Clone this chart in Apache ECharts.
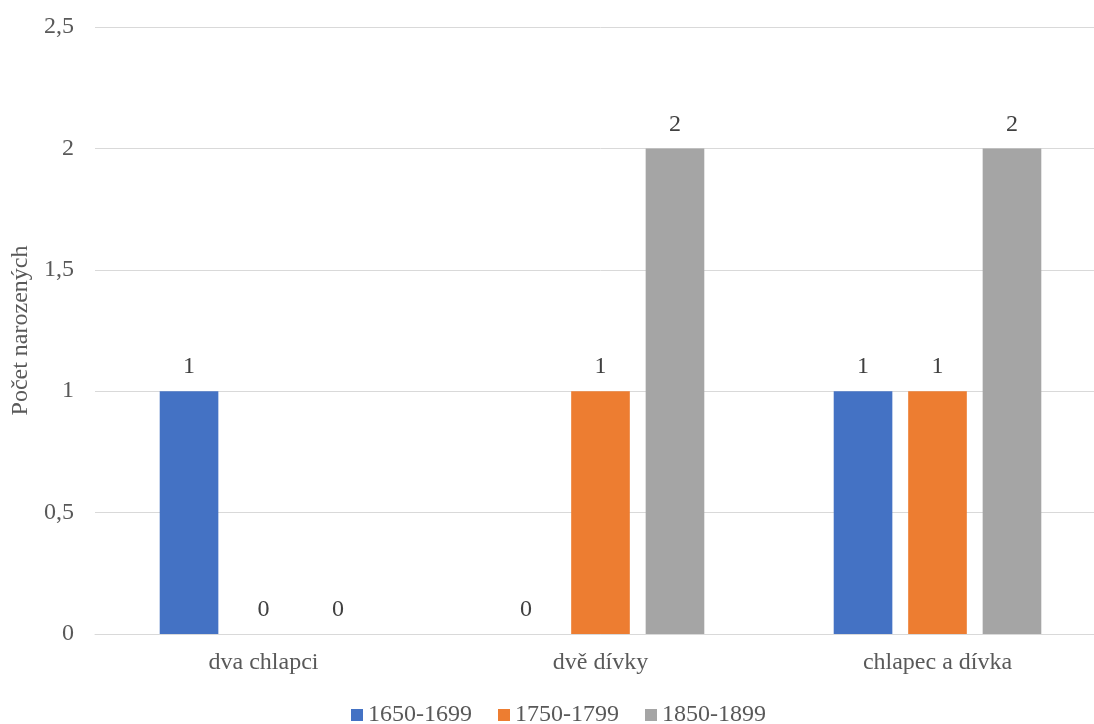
<!DOCTYPE html>
<html>
<head>
<meta charset="utf-8">
<script src="https://cdn.jsdelivr.net/npm/echarts@6/dist/echarts.min.js"></script>
<style>
html,body{margin:0;padding:0;background:#fff;overflow:hidden;}
#chart{width:1106px;height:724px;}
</style>
</head>
<body>
<div id="chart"></div>
<script>
const categories = ['dva chlapci', 'dvě dívky', 'chlapec a dívka'];
const seriesNames = ['1650-1699', '1750-1799', '1850-1899'];
const values1650 = [1, 0, 1];
const values1750 = [0, 1, 1];
const values1850 = [0, 2, 2];
const colors = ['#4472C4', '#ED7D31', '#A5A5A5'];
const yAxisName = 'Počet narozených';

const FONT = '"Liberation Serif", "Times New Roman", serif';
const chart = echarts.init(document.getElementById('chart'));
const allValues = [values1650, values1750, values1850];

chart.setOption({
  animation: false,
  textStyle: { fontFamily: FONT },
  grid: { left: 95, top: 27, right: 0, bottom: 90, containLabel: false },
  legend: {
    top: 703,
    left: 351,
    padding: 0,
    itemWidth: 12,
    itemHeight: 12,
    itemGap: 26,
    icon: 'rect',
    textStyle: { fontFamily: FONT, fontSize: 24, color: '#595959' },
    data: seriesNames
  },
  xAxis: {
    type: 'category',
    data: categories,
    axisLine: { lineStyle: { color: '#D9D9D9', width: 1 } },
    axisTick: { show: false },
    axisLabel: { fontFamily: FONT, fontSize: 24, color: '#595959', margin: 17 }
  },
  yAxis: {
    type: 'value',
    min: 0,
    max: 2.5,
    interval: 0.5,
    name: yAxisName,
    nameLocation: 'middle',
    nameGap: 60,
    nameTextStyle: { fontFamily: FONT, fontSize: 24, color: '#595959' },
    axisLine: { show: false },
    axisTick: { show: false },
    axisLabel: {
      fontFamily: FONT, fontSize: 24, color: '#595959', margin: 21,
      formatter: v => String(v).replace('.', ',')
    },
    splitLine: { lineStyle: { color: '#D9D9D9', width: 1 } }
  },
  series: allValues.map((vals, i) => ({
    name: seriesNames[i],
    type: 'bar',
    data: vals,
    itemStyle: { color: colors[i] },
    barGap: '27%',
    barCategoryGap: '38.4%',
    label: {
      show: true,
      position: 'top',
      distance: 12,
      fontFamily: FONT,
      fontSize: 24,
      color: '#404040'
    }
  }))
});
</script>
</body>
</html>
